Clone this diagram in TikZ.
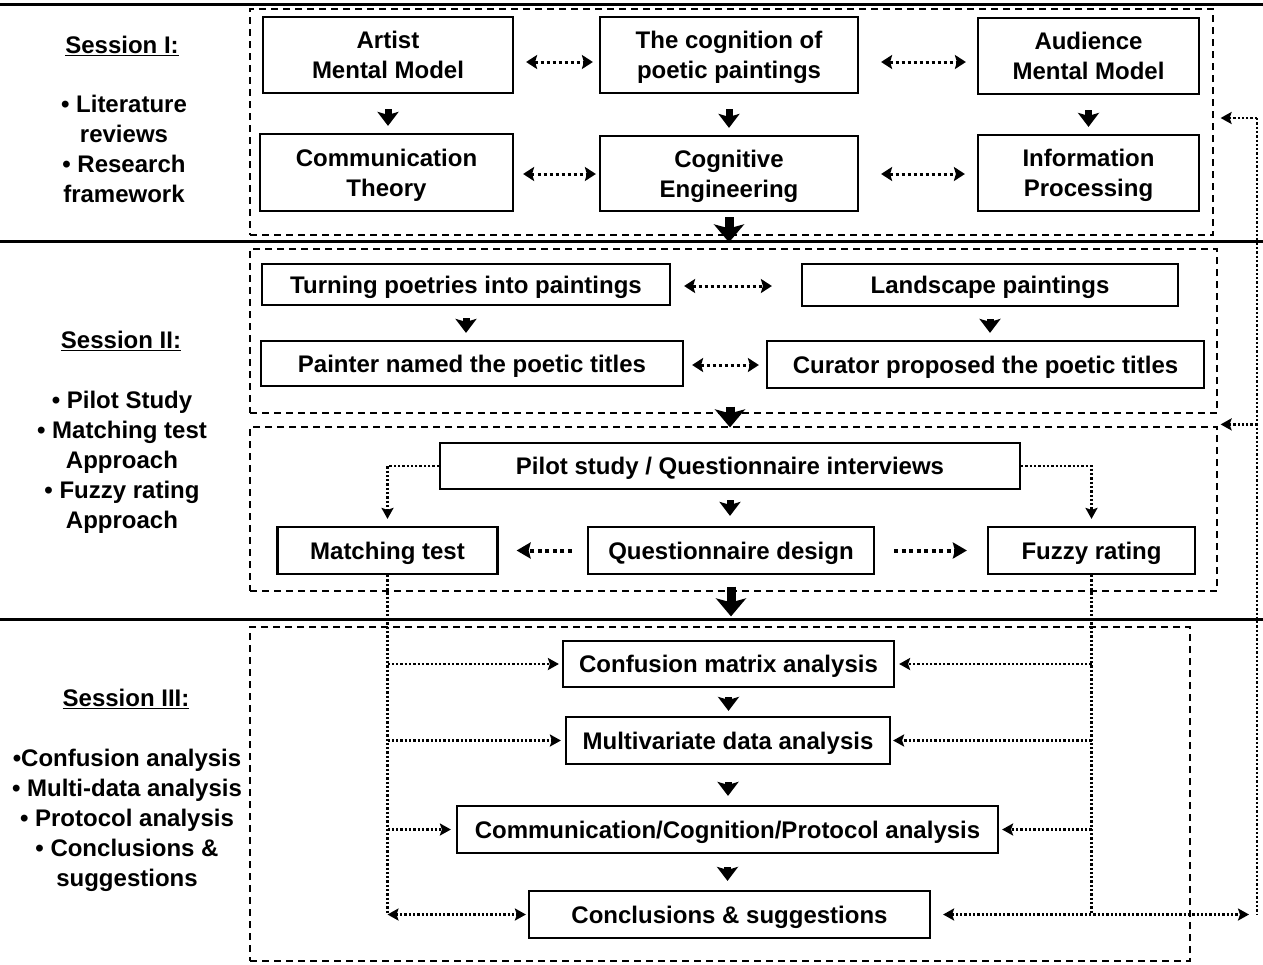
\documentclass[tikz,border=0pt]{standalone}
\usepackage{fontspec}
\setmainfont{Liberation Sans}
\usetikzlibrary{arrows.meta}
\begin{document}
\begin{tikzpicture}[x=1pt,y=-1pt,
  every node/.style={font=\fontsize{24}{30}\selectfont\bfseries},
  box/.style={draw, line width=2.2pt, align=center, inner sep=0pt, text depth=0pt},
  dbox/.style={draw, line width=1.2pt, dash pattern=on 7pt off 5pt, inner sep=0pt},
  lbl/.style={align=center, inner sep=0pt},
  down/.style={line width=7pt, -{Stealth[length=14pt,width=21pt,inset=3pt]}},
  big/.style={line width=9pt, -{Stealth[length=18pt,width=30pt,inset=4pt]}},
  dd/.style={line width=3pt, dash pattern=on 3pt off 3pt, {Stealth[length=11pt,width=14pt,inset=2pt]}-{Stealth[length=11pt,width=14pt,inset=2pt]}},
  thk/.style={line width=4pt, dash pattern=on 4pt off 3.5pt, -{Stealth[length=14pt,width=16pt,inset=2pt]}},
  fl/.style={line width=2.3pt, dash pattern=on 2.3pt off 2pt},
  fla/.style={fl, -{Stealth[length=11pt,width=12pt,inset=2pt]}},
  fld/.style={fl, {Stealth[length=11pt,width=12pt,inset=2pt]}-{Stealth[length=11pt,width=12pt,inset=2pt]}},
  sep/.style={line width=3pt}
]
\useasboundingbox (0,0) rectangle (1263,964);
\fill[white] (0,0) rectangle (1263,964);

% separators
\coordinate (L0) at (0,4);
\coordinate (R0) at (1263,4);
\coordinate (L1) at (0,241);
\coordinate (R1) at (1263,241);
\coordinate (L2) at (0,619);
\coordinate (R2) at (1263,619);
\draw[sep] (L0) -- (R0);
\draw[sep] (L1) -- (R1);
\draw[sep] (L2) -- (R2);

% dashed frames
\node[dbox, minimum width=963pt, minimum height=226pt] (s1) at (731.5,122) {};
\node[dbox, minimum width=967pt, minimum height=164pt] (s2a) at (733.5,331) {};
\node[dbox, minimum width=967pt, minimum height=164pt] (s2b) at (733.5,509) {};
\node[dbox, minimum width=940pt, minimum height=334pt] (s3) at (720,794) {};

% left labels
\node[lbl] (t1) at (122,46) {\underline{Session I:}};
\node[lbl] (b1) at (124,149) {• Literature\\ reviews\\• Research\\ framework};
\node[lbl] (t2) at (121,341) {\underline{Session II:}};
\node[lbl] (b2) at (122,462.5) {• Pilot Study\\• Matching test\\Approach\\• Fuzzy rating\\Approach};
\node[lbl] (t3) at (126,699) {\underline{Session III:}};
\node[lbl] (b3) at (127,820.5) {•Confusion analysis\\• Multi-data analysis\\• Protocol analysis\\• Conclusions \&\\suggestions};

% Session I boxes
\node[box, minimum width=250pt, minimum height=76pt] (artist) at (388,55) {Artist\\Mental Model};
\node[box, minimum width=258pt, minimum height=76pt] (cog) at (729,55) {The cognition of\\poetic paintings};
\node[box, minimum width=221pt, minimum height=76pt] (aud) at (1088.5,56) {Audience\\Mental Model};
\node[box, minimum width=253pt, minimum height=77pt] (comm) at (386.5,172.5) {Communication\\Theory};
\node[box, minimum width=258pt, minimum height=75pt] (cogeng) at (729,173.5) {Cognitive\\Engineering};
\node[box, minimum width=221pt, minimum height=76pt] (info) at (1088.5,173) {Information\\Processing};

% Session II boxes
\node[box, minimum width=408pt, minimum height=41pt] (turn) at (466,284.5) {Turning poetries into paintings};
\node[box, minimum width=376pt, minimum height=42pt] (land) at (990,285) {Landscape paintings};
\node[box, minimum width=422pt, minimum height=45pt] (painter) at (472,363.5) {Painter named the poetic titles};
\node[box, minimum width=437pt, minimum height=47pt] (curator) at (985.5,364.5) {Curator proposed the poetic titles};
\node[box, minimum width=580pt, minimum height=46pt] (pilot) at (730,466) {Pilot study / Questionnaire interviews};
\node[box, minimum width=220pt, minimum height=47pt] (match) at (387.5,550.5) {Matching test};
\node[box, minimum width=286pt, minimum height=47pt] (qdesign) at (731,550.5) {Questionnaire design};
\node[box, minimum width=207pt, minimum height=47pt] (fuzzy) at (1091.5,550.5) {Fuzzy rating};

% Session III boxes
\node[box, minimum width=331pt, minimum height=46pt] (conf) at (728.5,664) {Confusion matrix analysis};
\node[box, minimum width=324pt, minimum height=47pt] (multi) at (728,740.5) {Multivariate data analysis};
\node[box, minimum width=541pt, minimum height=47pt] (ccp) at (727.5,829.5) {Communication/Cognition/Protocol analysis};
\node[box, minimum width=401pt, minimum height=47pt] (concl) at (729.5,914.5) {Conclusions \& suggestions};

% Session I arrows
\draw[down, shorten <=15pt, shorten >=7pt] (artist.south) -- (artist.south |- comm.north);
\draw[down, shorten <=15pt, shorten >=7pt] (cog.south) -- (cog.south |- cogeng.north);
\draw[down, shorten <=15pt, shorten >=7pt] (aud.south) -- (aud.south |- info.north);
\draw[dd] ([shift={(12,7)}]artist.east) -- ([shift={(-6,7)}]cog.west);
\draw[dd] ([shift={(22,7)}]cog.east) -- ([shift={(-11,6)}]aud.west);
\draw[dd] ([shift={(9,1.5)}]comm.east) -- ([shift={(-3,0.5)}]cogeng.west);
\draw[dd] ([shift={(22,0.5)}]cogeng.east) -- ([shift={(-12,1)}]info.west);
\draw[big] ([yshift=-5pt]cogeng.south) -- ([yshift=6pt]s2a.north -| cogeng.south);

% Session II arrows
\draw[down, shorten <=12pt, shorten >=7pt] (turn.south) -- (turn.south |- painter.north);
\draw[down, shorten <=12pt, shorten >=7pt] (land.south) -- (land.south |- curator.north);
\draw[dd] ([shift={(13,1.5)}]turn.east) -- ([shift={(-29,1)}]land.west);
\draw[dd] ([shift={(8,1.5)}]painter.east) -- ([shift={(-7,0.5)}]curator.west);
\draw[big] ([yshift=7pt]s2a.south -| pilot.north) -- ([yshift=-1pt]s2b.north -| pilot.north);

\draw[down, shorten <=10pt, shorten >=10pt] (pilot.south) -- (pilot.south |- qdesign.north);
\draw[fla] (pilot.west) -| ([yshift=7pt]match.north);
\draw[fla] (pilot.east) -| ([yshift=7pt]fuzzy.north);
\draw[thk] ([xshift=-15pt]qdesign.west) -- ([xshift=18pt]match.east);
\draw[thk] ([xshift=19pt]qdesign.east) -- ([xshift=-20pt]fuzzy.west);
\draw[big] ([yshift=5pt]s2b.south -| qdesign.south) -- ([yshift=10pt]s3.north -| qdesign.south);

% Session III arrows
\draw[down, shorten <=9pt, shorten >=5pt] (conf.south) -- (conf.south |- multi.north);
\draw[down, shorten <=17pt, shorten >=9pt] (multi.south) -- (multi.south |- ccp.north);
\draw[down, shorten <=13pt, shorten >=9pt] (ccp.south) -- (ccp.south |- concl.north);

\draw[fl] (match.south) -- (match.south |- concl.west);
\draw[fla] (match.south |- conf.west) -- ([xshift=-3pt]conf.west);
\draw[fla] (match.south |- multi.west) -- ([xshift=-4pt]multi.west);
\draw[fla] (match.south |- ccp.west) -- ([xshift=-5pt]ccp.west);
\draw[fld] (match.south |- concl.west) -- ([xshift=-2pt]concl.west);

\draw[fl] (fuzzy.south) -- (fuzzy.south |- concl.east);
\draw[fla] (fuzzy.south |- conf.east) -- ([xshift=4pt]conf.east);
\draw[fla] (fuzzy.south |- multi.east) -- ([xshift=2pt]multi.east);
\draw[fla] (fuzzy.south |- ccp.east) -- ([xshift=3pt]ccp.east);

% feedback loop
\coordinate (fb) at (1257,0);
\draw[fld] ([xshift=12pt]concl.east) -- ([xshift=-8pt]fb |- concl.east);
\draw[fl] ([yshift=4pt]fb |- s1.east) -- (fb |- concl.east);
\draw[fla] ([yshift=4pt]fb |- s1.east) -- ([shift={(7,-4)}]s1.east);
\draw[fla] ([yshift=2pt]fb |- s2b.north east) -- ([shift={(3,-2)}]s2b.north east);
\end{tikzpicture}
\end{document}
